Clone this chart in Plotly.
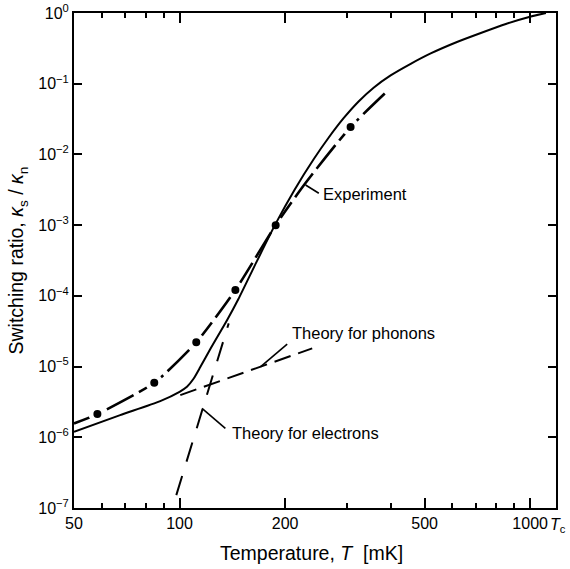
import math
import plotly.graph_objects as go

FONT = "Liberation Sans, Arial, Helvetica, sans-serif"

# ---- data (temperature in mK, switching ratio) ----
# solid curve
solid_T = [50, 67.7, 88.1, 100, 105, 109.5, 114.6, 122.4, 136.7, 147.2, 165.7,
           187.7, 212.7, 241.0, 266.1, 293.7, 324.1, 357.7, 400.0,
           456.3, 520.4, 613.5, 723.3, 852.4, 1004.9, 1109]
solid_ratio = [1.20e-6, 2.06e-6, 3.25e-6, 4.40e-6, 5.18e-6, 6.66e-6, 9.84e-6,
               1.77e-5, 4.55e-5, 9.01e-5, 3.0e-4, 1.033e-3, 3.15e-3,
               8.47e-3, 1.72e-2, 3.25e-2, 5.61e-2, 8.79e-2, 0.131, 0.191,
               0.268, 0.3826, 0.5213, 0.699, 0.892, 1.0]

# experiment (dashed line with data points)
exp_T = [50, 58.3, 84.7, 111.6, 144.3, 188, 228.7, 307.5, 397]
exp_ratio = [1.57e-6, 2.13e-6, 5.9e-6, 2.2e-5, 1.21e-4, 1.0e-3, 3.94e-3,
             2.44e-2, 8.4e-2]
dots_T = [58.3, 84.7, 111.6, 144.3, 188, 307.5]
dots_ratio = [2.13e-6, 5.9e-6, 2.2e-5, 1.21e-4, 1.0e-3, 2.44e-2]

# theory for phonons
phonon_T = [100.5, 239]
phonon_ratio = [3.95e-6, 1.81e-5]

# theory for electrons
electron_T = [97.9, 138.1]
electron_ratio = [1.52e-7, 4.08e-5]

# label leaders (T, ratio pairs)
leader_exp_T = [228.8, 249.6]
leader_exp_ratio = [3.69e-3, 2.82e-3]
leader_ph_T = [170.1, 202.8]
leader_ph_ratio = [9.93e-6, 2.08e-5]
leader_el_T = [115.9, 135.1]
leader_el_ratio = [2.56e-6, 1.34e-6]

# labels
label_text = ["Experiment", "Theory for phonons", "Theory for electrons"]
label_T = [253, 207, 139.5]
label_ratio = [2.75e-3, 2.95e-5, 1.14e-6]

# ticks
x_tick_vals = [50, 100, 200, 500, 1000]
x_tick_text = ["50", "100", "200", "500", "1000"]
x_minor_vals = [60, 70, 80, 90, 300, 400, 600, 700, 800, 900]
x_max = 1185
y_exponents = [-7, -6, -5, -4, -3, -2, -1, 0]
y_tick_vals = [10.0 ** e for e in y_exponents]
y_tick_text = ["10<sup>%s</sup>" % (str(e).replace("-", "\u2212")) for e in y_exponents]

fig = go.Figure()

fig.add_trace(go.Scatter(
    x=exp_T, y=exp_ratio, mode="lines",
    line=dict(color="black", width=2.6, dash="30px,6px", shape="spline", smoothing=0.6),
    hoverinfo="skip"))
fig.add_trace(go.Scatter(
    x=dots_T, y=dots_ratio, mode="markers",
    marker=dict(color="black", size=13, line=dict(color="white", width=5)),
    hoverinfo="skip"))
fig.add_trace(go.Scatter(
    x=solid_T, y=solid_ratio, mode="lines",
    line=dict(color="black", width=2.0, shape="spline", smoothing=0.6),
    hoverinfo="skip"))
fig.add_trace(go.Scatter(
    x=phonon_T, y=phonon_ratio, mode="lines",
    line=dict(color="black", width=2.0, dash="17px,8px"),
    hoverinfo="skip"))
fig.add_trace(go.Scatter(
    x=electron_T, y=electron_ratio, mode="lines",
    line=dict(color="black", width=2.0, dash="20px,15px"),
    hoverinfo="skip"))
for lx, ly in [(leader_exp_T, leader_exp_ratio), (leader_ph_T, leader_ph_ratio),
               (leader_el_T, leader_el_ratio)]:
    fig.add_trace(go.Scatter(x=lx, y=ly, mode="lines",
                             line=dict(color="black", width=1.6), hoverinfo="skip"))

annotations = []
for t, xv, yv in zip(label_text, label_T, label_ratio):
    annotations.append(dict(
        text=t, x=math.log10(xv), y=math.log10(yv), xref="x", yref="y",
        xanchor="left", yanchor="middle", showarrow=False,
        font=dict(family=FONT, size=16.5, color="black")))

annotations.append(dict(
    text="<i>T</i><sub>c</sub>", x=0.983, y=-0.036, xref="paper", yref="paper",
    xanchor="left", yanchor="middle", showarrow=False,
    font=dict(family=FONT, size=16, color="black")))
annotations.append(dict(
    text="Temperature, <i>T</i>  [mK]", x=0.4927, y=-0.0916, xref="paper", yref="paper",
    xanchor="center", yanchor="middle", showarrow=False,
    font=dict(family=FONT, size=19.5, color="black")))
annotations.append(dict(
    text="Switching ratio, <i>\u03ba</i><sub>s</sub> / <i>\u03ba</i><sub>n</sub>",
    x=-0.1162, y=0.5, xref="paper", yref="paper", textangle=-90,
    xanchor="center", yanchor="middle", showarrow=False,
    font=dict(family=FONT, size=19.5, color="black")))

fig.update_layout(
    width=570, height=569,
    margin=dict(l=74, r=14, t=13, b=61),
    plot_bgcolor="white", paper_bgcolor="white",
    showlegend=False,
    font=dict(family=FONT, size=16, color="black"),
    annotations=annotations,
)
fig.update_xaxes(
    type="log", range=[math.log10(50), math.log10(x_max)],
    tickmode="array", tickvals=x_tick_vals, ticktext=x_tick_text, tickangle=0,
    ticks="inside", ticklen=10, tickwidth=1.6, tickcolor="black",
    showline=True, linewidth=2, linecolor="black", mirror="ticks",
    showgrid=False, zeroline=False, automargin=False,
    tickfont=dict(family=FONT, size=16, color="black"),
    minor=dict(tickmode="array", tickvals=x_minor_vals, ticks="inside",
               ticklen=5, tickwidth=1.5, tickcolor="black", showgrid=False),
)
fig.update_yaxes(
    type="log", range=[-7, 0],
    tickmode="array", tickvals=y_tick_vals, ticktext=y_tick_text,
    ticks="inside", ticklen=8, tickwidth=1.6, tickcolor="black",
    showline=True, linewidth=2, linecolor="black", mirror="ticks",
    showgrid=False, zeroline=False, automargin=False,
    tickfont=dict(family=FONT, size=16, color="black"),
)

fig.write_html("out.html")
